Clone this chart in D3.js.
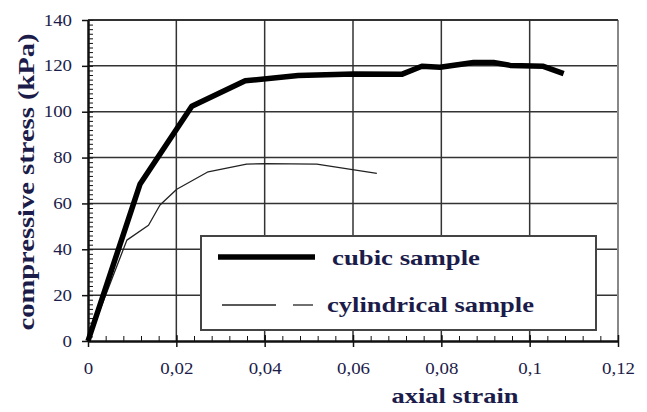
<!DOCTYPE html>
<html>
<head>
<meta charset="utf-8">
<script src="https://cdn.jsdelivr.net/npm/d3@7"></script>
<style>
  body { margin: 0; background: #fff; }
  text { font-family: "Liberation Serif", "Times New Roman", serif; }
</style>
</head>
<body>
<svg id="chart" width="647" height="412"></svg>
<script>
// values
var cubicStrain = [0, 0.0118, 0.0235, 0.0356, 0.0476, 0.0601, 0.0710, 0.0756, 0.0797, 0.0873, 0.0918, 0.0956, 0.1031, 0.1077];
var cubicStress = [0, 68.5, 102.4, 113.5, 115.8, 116.5, 116.3, 119.8, 119.4, 121.5, 121.5, 120.2, 119.8, 116.6];
var cylStrain = [0, 0.0088, 0.0137, 0.0163, 0.0201, 0.0272, 0.0359, 0.0401, 0.0518, 0.0654];
var cylStress = [0, 44, 50.5, 59.3, 66.2, 73.8, 77.1, 77.4, 77.1, 73.1];
var xTicks = [0, 0.02, 0.04, 0.06, 0.08, 0.1, 0.12];
var yTicks = [0, 20, 40, 60, 80, 100, 120, 140];
var seriesNames = ["cubic sample", "cylindrical sample"];

var svg = d3.select("#chart");
var pLeft = 88, pRight = 618, pTop = 20, pBottom = 341;
var ink = "#1c1c4a";

var x = d3.scaleLinear().domain([0, 0.12]).range([pLeft, pRight]);
var y = d3.scaleLinear().domain([0, 140]).range([pBottom, pTop]);

var fmt = function(d){ return String(d).replace(".", ","); };

// stretch text horizontally like the scanned figure
function widen(sel, k){
  sel.each(function(){
    var w = this.getComputedTextLength();
    d3.select(this).attr("textLength", w * k).attr("lengthAdjust", "spacingAndGlyphs");
  });
}

// grid
svg.append("g").selectAll("line").data(yTicks.slice(1)).enter().append("line")
  .attr("x1", pLeft).attr("x2", pRight)
  .attr("y1", function(d){ return y(d); }).attr("y2", function(d){ return y(d); })
  .attr("stroke", "#333").attr("stroke-width", 1.5);
svg.append("g").selectAll("line").data(xTicks.slice(1, -1)).enter().append("line")
  .attr("y1", pTop).attr("y2", pBottom)
  .attr("x1", function(d){ return x(d); }).attr("x2", function(d){ return x(d); })
  .attr("stroke", "#333").attr("stroke-width", 1.5);
// right border
svg.append("line").attr("x1", pRight).attr("x2", pRight).attr("y1", pTop).attr("y2", pBottom)
  .attr("stroke", "#888").attr("stroke-width", 2);

// minor ticks
var yMinor = d3.range(0, 141, 2);
var xMinor = d3.range(0, 0.1201, 0.004);
svg.append("g").attr("transform", "translate(" + pLeft + ",0)")
  .call(d3.axisRight(y).tickValues(yMinor).tickSize(5).tickSizeOuter(0).tickFormat(""))
  .call(function(g){ g.select(".domain").remove(); g.selectAll("line").attr("stroke", "#111"); });
svg.append("g").attr("transform", "translate(0," + pBottom + ")")
  .call(d3.axisTop(x).tickValues(xMinor).tickSize(5).tickSizeOuter(0).tickFormat(""))
  .call(function(g){ g.select(".domain").remove(); g.selectAll("line").attr("stroke", "#111"); });

// major axes
var yAxis = svg.append("g").attr("transform", "translate(" + pLeft + ",0)")
  .call(d3.axisLeft(y).tickValues(yTicks).tickSize(6).tickSizeOuter(0).tickPadding(10).tickFormat(fmt));
var xAxis = svg.append("g").attr("transform", "translate(0," + pBottom + ")")
  .call(d3.axisBottom(x).tickValues(xTicks).tickSize(6).tickSizeOuter(0).tickPadding(16).tickFormat(fmt));
xAxis.selectAll(".tick line").attr("y1", -6);
[yAxis, xAxis].forEach(function(g){
  g.select(".domain").attr("stroke", "#111").attr("stroke-width", 2.5);
  g.selectAll(".tick line").attr("stroke", "#111").attr("stroke-width", 1.5);
  g.selectAll("text").attr("fill", ink).style("font-size", "16px")
    .style("font-family", "'Liberation Serif', serif").call(widen, 1.18);
});
// top border
svg.append("line").attr("x1", pLeft).attr("x2", pRight).attr("y1", pTop).attr("y2", pTop)
  .attr("stroke", "#222").attr("stroke-width", 1.5);

// lines
var line = d3.line().x(function(d){ return x(d[0]); }).y(function(d){ return y(d[1]); });
var cubic = d3.zip(cubicStrain, cubicStress);
var cyl = d3.zip(cylStrain, cylStress);
svg.append("path").datum(cyl).attr("d", line).attr("fill", "none")
  .attr("stroke", "#222").attr("stroke-width", 1.3).attr("stroke-linejoin", "round");
svg.append("path").datum(cubic).attr("d", line).attr("fill", "none")
  .attr("stroke", "#000").attr("stroke-width", 5.5).attr("stroke-linejoin", "round");

// legend
var lg = svg.append("g");
lg.append("rect").attr("x", 201).attr("y", 236).attr("width", 395).attr("height", 94)
  .attr("fill", "#fff").attr("stroke", "#444").attr("stroke-width", 2);
lg.append("line").attr("x1", 218).attr("x2", 315).attr("y1", 257).attr("y2", 257)
  .attr("stroke", "#000").attr("stroke-width", 5.5);
lg.append("line").attr("x1", 222).attr("x2", 276).attr("y1", 305).attr("y2", 305)
  .attr("stroke", "#222").attr("stroke-width", 1.3);
lg.append("line").attr("x1", 293).attr("x2", 313).attr("y1", 305).attr("y2", 305)
  .attr("stroke", "#222").attr("stroke-width", 1.3);
lg.append("text").attr("x", 332).attr("y", 265).text(seriesNames[0])
  .attr("fill", ink).attr("font-weight", "bold").style("font-size", "22px")
  .attr("textLength", 148).attr("lengthAdjust", "spacingAndGlyphs");
lg.append("text").attr("x", 327).attr("y", 312).text(seriesNames[1])
  .attr("fill", ink).attr("font-weight", "bold").style("font-size", "22px")
  .attr("textLength", 207).attr("lengthAdjust", "spacingAndGlyphs");

// axis titles
svg.append("text").attr("x", 455).attr("y", 403).attr("text-anchor", "middle")
  .attr("fill", ink).attr("font-weight", "bold").style("font-size", "22px")
  .attr("textLength", 127).attr("lengthAdjust", "spacingAndGlyphs").text("axial strain");
svg.append("text").attr("transform", "translate(34,182) rotate(-90)").attr("text-anchor", "middle")
  .attr("fill", ink).attr("font-weight", "bold").style("font-size", "24px")
  .attr("textLength", 297).attr("lengthAdjust", "spacingAndGlyphs").text("compressive stress (kPa)");
</script>
</body>
</html>
